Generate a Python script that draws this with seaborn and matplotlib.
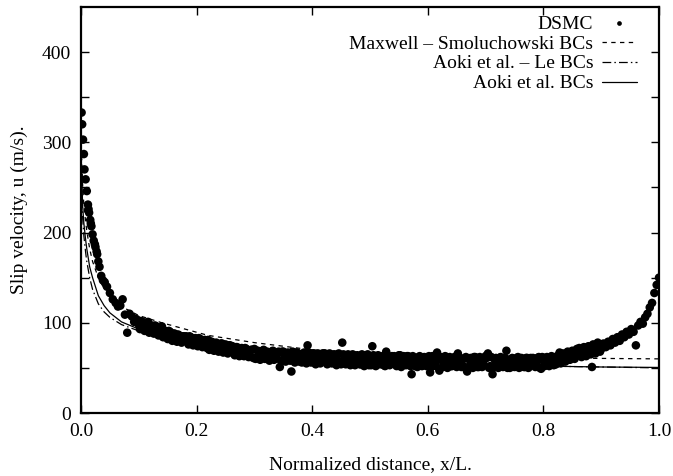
import matplotlib
matplotlib.use("Agg")
import matplotlib.pyplot as plt
import seaborn as sns

# ---------------- data ----------------
dsmc_x_near_wall = [0.001, 0.002, 0.0035, 0.005, 0.006, 0.008, 0.010, 0.012, 0.013, 0.014,
                    0.016, 0.017, 0.018, 0.020, 0.022, 0.024, 0.025, 0.027, 0.028, 0.030,
                    0.032, 0.035, 0.038, 0.041, 0.045, 0.050, 0.055]
dsmc_u_near_wall = [333, 320, 303, 287, 270, 259, 246, 231, 226, 222,
                    214, 210, 207, 198, 191, 187, 184, 179, 176, 168,
                    162, 152, 147, 145, 140, 133, 126]

dsmc_x_bulk = [
    0.060, 0.064, 0.068, 0.072, 0.076, 0.080, 0.084, 0.088, 0.092, 0.096,
    0.100, 0.104, 0.108, 0.112, 0.116, 0.120, 0.124, 0.128, 0.132, 0.136,
    0.140, 0.144, 0.148, 0.152, 0.156, 0.160, 0.164, 0.168, 0.172, 0.176,
    0.180, 0.184, 0.188, 0.192, 0.196, 0.200, 0.204, 0.208, 0.212, 0.216,
    0.220, 0.224, 0.228, 0.232, 0.236, 0.240, 0.244, 0.248, 0.252, 0.256,
    0.260, 0.264, 0.268, 0.272, 0.276, 0.280, 0.284, 0.288, 0.292, 0.296,
    0.300, 0.304, 0.308, 0.312, 0.316, 0.320, 0.324, 0.328, 0.332, 0.336,
    0.340, 0.344, 0.348, 0.352, 0.356, 0.360, 0.364, 0.368, 0.372, 0.376,
    0.380, 0.384, 0.388, 0.392, 0.396, 0.400, 0.404, 0.408, 0.412, 0.416,
    0.420, 0.424, 0.428, 0.432, 0.436, 0.440, 0.444, 0.448, 0.452, 0.456,
    0.460, 0.464, 0.468, 0.472, 0.476, 0.480, 0.484, 0.488, 0.492, 0.496,
    0.500, 0.504, 0.508, 0.512, 0.516, 0.520, 0.524, 0.528, 0.532, 0.536,
    0.540, 0.544, 0.548, 0.552, 0.556, 0.560, 0.564, 0.568, 0.572, 0.576,
    0.580, 0.584, 0.588, 0.592, 0.596, 0.600, 0.604, 0.608, 0.612, 0.616,
    0.620, 0.624, 0.628, 0.632, 0.636, 0.640, 0.644, 0.648, 0.652, 0.656,
    0.660, 0.664, 0.668, 0.672, 0.676, 0.680, 0.684, 0.688, 0.692, 0.696,
    0.700, 0.704, 0.708, 0.712, 0.716, 0.720, 0.724, 0.728, 0.732, 0.736,
    0.740, 0.744, 0.748, 0.752, 0.756, 0.760, 0.764, 0.768, 0.772, 0.776,
    0.780, 0.784, 0.788, 0.792, 0.796, 0.800, 0.804, 0.808, 0.812, 0.816,
    0.820, 0.824, 0.828, 0.832, 0.836, 0.840, 0.844, 0.848, 0.852, 0.856,
    0.860, 0.864, 0.868, 0.872, 0.876, 0.880, 0.884, 0.888, 0.892, 0.896,
    0.900, 0.904, 0.908, 0.912, 0.916, 0.920, 0.924, 0.928, 0.932, 0.936,
    0.940, 0.944, 0.948, 0.952, 0.956, 0.960, 0.964, 0.968, 0.972, 0.976,
    0.980, 0.984, 0.988, 0.992, 0.996, 1.000]
dsmc_u_bulk = [
    122, 118, 119, 126, 109, 89, 110, 107, 101, 104,
    98, 102, 95, 100, 101, 92, 94, 97, 89, 93,
    96, 88, 85, 91, 84, 88, 82, 87, 80, 85,
    84, 79, 85, 78, 82, 76, 83, 79, 74, 80,
    81, 73, 78, 71, 76, 70, 77, 72, 69, 75,
    74, 67, 73, 66, 71, 64, 72, 68, 63, 70,
    71, 62, 68, 64, 70, 61, 67, 63, 69, 60,
    66, 51, 68, 62, 65, 59, 46, 63, 67, 60,
    65, 58, 63, 75, 60, 66, 59, 64, 57, 63,
    66, 58, 62, 56, 64, 59, 65, 57, 78, 61,
    55, 63, 58, 64, 56, 61, 54, 62, 59, 65,
    57, 74, 61, 55, 63, 58, 53, 68, 60, 56,
    62, 55, 60, 64, 54, 59, 63, 56, 43, 61,
    55, 62, 58, 53, 61, 57, 45, 63, 56, 67,
    47, 59, 54, 62, 57, 52, 60, 55, 66, 58,
    53, 61, 46, 59, 54, 62, 56, 51, 60, 55,
    63, 66, 52, 43, 59, 55, 61, 53, 58, 69,
    56, 52, 60, 55, 62, 53, 58, 51, 61, 56,
    54, 60, 55, 62, 49, 58, 53, 61, 56, 60,
    62, 57, 67, 58, 64, 60, 66, 61, 68, 63,
    70, 64, 71, 66, 73, 68, 51, 74, 69, 76,
    71, 77, 73, 79, 75, 82, 78, 84, 80, 87,
    84, 90, 87, 93, 90, 75, 97, 101, 99, 106,
    110, 117, 122, 133, 142, 150]

dsmc_x_bulk2 = [
    0.102, 0.106, 0.110, 0.114, 0.118, 0.122, 0.126, 0.130, 0.134, 0.138,
    0.142, 0.146, 0.150, 0.154, 0.158, 0.162, 0.166, 0.170, 0.174, 0.178,
    0.182, 0.186, 0.190, 0.194, 0.198, 0.202, 0.206, 0.210, 0.214, 0.218,
    0.222, 0.226, 0.230, 0.234, 0.238, 0.242, 0.246, 0.250, 0.254, 0.258,
    0.262, 0.266, 0.270, 0.274, 0.278, 0.282, 0.286, 0.290, 0.294, 0.298,
    0.302, 0.306, 0.310, 0.314, 0.318, 0.322, 0.326, 0.330, 0.334, 0.338,
    0.342, 0.346, 0.350, 0.354, 0.358, 0.362, 0.366, 0.370, 0.374, 0.378,
    0.382, 0.386, 0.390, 0.394, 0.398, 0.402, 0.406, 0.410, 0.414, 0.418,
    0.422, 0.426, 0.430, 0.434, 0.438, 0.442, 0.446, 0.450, 0.454, 0.458,
    0.462, 0.466, 0.470, 0.474, 0.478, 0.482, 0.486, 0.490, 0.494, 0.498,
    0.502, 0.506, 0.510, 0.514, 0.518, 0.522, 0.526, 0.530, 0.534, 0.538,
    0.542, 0.546, 0.550, 0.554, 0.558, 0.562, 0.566, 0.570, 0.574, 0.578,
    0.582, 0.586, 0.590, 0.594, 0.598, 0.602, 0.606, 0.610, 0.614, 0.618,
    0.622, 0.626, 0.630, 0.634, 0.638, 0.642, 0.646, 0.650, 0.654, 0.658,
    0.662, 0.666, 0.670, 0.674, 0.678, 0.682, 0.686, 0.690, 0.694, 0.698,
    0.702, 0.706, 0.710, 0.714, 0.718, 0.722, 0.726, 0.730, 0.734, 0.738,
    0.742, 0.746, 0.750, 0.754, 0.758, 0.762, 0.766, 0.770, 0.774, 0.778,
    0.782, 0.786, 0.790, 0.794, 0.798, 0.802, 0.806, 0.810, 0.814, 0.818,
    0.822, 0.826, 0.830, 0.834, 0.838, 0.842, 0.846, 0.850, 0.854, 0.858,
    0.862, 0.866, 0.870, 0.874, 0.878, 0.882, 0.886, 0.890, 0.894, 0.898]
dsmc_u_bulk2 = [
    93, 101, 91, 99, 89, 97, 88, 96, 86, 93,
    84, 91, 82, 90, 80, 88, 79, 86, 78, 85,
    85, 76, 84, 75, 83, 74, 82, 73, 81, 72,
    70, 79, 69, 78, 68, 77, 67, 76, 66, 75,
    74, 64, 73, 63, 72, 63, 71, 62, 70, 61,
    60, 69, 59, 69, 60, 68, 58, 68, 59, 67,
    68, 58, 68, 57, 67, 58, 68, 56, 67, 57,
    56, 67, 55, 67, 56, 66, 54, 66, 55, 66,
    66, 54, 66, 55, 65, 53, 66, 54, 65, 54,
    65, 53, 65, 53, 64, 54, 65, 52, 64, 53,
    53, 64, 52, 64, 54, 63, 52, 64, 53, 63,
    63, 52, 64, 51, 63, 53, 63, 52, 63, 52,
    51, 63, 52, 62, 52, 63, 51, 62, 52, 63,
    62, 51, 63, 50, 62, 52, 62, 51, 62, 51,
    51, 62, 51, 61, 50, 62, 51, 62, 51, 61,
    61, 50, 62, 51, 61, 50, 62, 51, 61, 50,
    50, 61, 51, 61, 50, 61, 51, 61, 50, 61,
    61, 51, 61, 50, 62, 52, 62, 52, 63, 53,
    54, 64, 55, 66, 57, 68, 59, 69, 60, 71,
    72, 62, 73, 63, 74, 65, 76, 66, 78, 68]

dsmc_x = dsmc_x_near_wall + dsmc_x_bulk + dsmc_x_bulk2
dsmc_u = dsmc_u_near_wall + dsmc_u_bulk + dsmc_u_bulk2

curve_x = [0.001, 0.003, 0.005, 0.008, 0.01, 0.015, 0.02, 0.03, 0.04, 0.05, 0.07, 0.1,
           0.14, 0.18, 0.22, 0.3, 0.4, 0.5, 0.6, 0.7, 0.8, 0.9, 1.0]
maxwell_u = [285, 250, 230, 212, 202, 182, 168, 150, 138, 130, 118, 108,
             100, 93, 86, 78, 70, 66, 63, 62, 61, 60.5, 60]
aoki_le_u = [255, 215, 196, 178, 168, 150, 137, 121, 112, 106, 98, 91,
             84, 79, 75, 68, 62, 58, 55, 53, 52, 51, 50]
aoki_u = [265, 228, 210, 192, 182, 162, 150, 130, 119, 111, 101, 93,
          85, 80, 75.5, 68, 62, 58, 55, 53, 52, 51, 50.5]

xtick_vals = [0.0, 0.2, 0.4, 0.6, 0.8, 1.0]
ytick_vals = [0, 100, 200, 300, 400]

# ---------------- plot ----------------
sns.set_theme(style="ticks")
plt.rcParams["font.family"] = ["Liberation Serif", "DejaVu Serif"]

fig = plt.figure(figsize=(6.73, 4.76), dpi=100)
ax = fig.add_axes([81 / 673, 1 - 413 / 476, (659 - 81) / 673, (413 - 7) / 476])

sns.scatterplot(x=dsmc_x, y=dsmc_u, ax=ax, color="black", s=38, edgecolor="none",
                linewidth=0, label="DSMC", zorder=2)
sns.lineplot(x=curve_x, y=maxwell_u, ax=ax, color="black", linewidth=0.9,
             linestyle=(0, (3.5, 3.5)), label="Maxwell \u2013 Smoluchowski BCs",
             estimator=None, sort=False, zorder=3)
sns.lineplot(x=curve_x, y=aoki_le_u, ax=ax, color="black", linewidth=0.9,
             linestyle=(0, (7, 2.5, 1.2, 2.5)), label="Aoki et al. \u2013 Le BCs",
             estimator=None, sort=False, zorder=3)
sns.lineplot(x=curve_x, y=aoki_u, ax=ax, color="black", linewidth=0.9,
             linestyle="-", label="Aoki et al. BCs",
             estimator=None, sort=False, zorder=3)

ax.set_xlim(0, 1.0)
ax.set_ylim(0, 450)
ax.set_xticks(xtick_vals)
ax.set_xticklabels([f"{v:.1f}" for v in xtick_vals])
ax.set_yticks(ytick_vals)
ax.set_yticklabels([str(v) for v in ytick_vals])
ax.set_yticks([50, 150, 250, 350], minor=True)
ax.tick_params(axis="both", which="both", direction="in", top=True, right=True,
               labelsize=14, width=1.0, color="black", labelcolor="black")
ax.tick_params(axis="both", which="major", length=6, pad=7)
ax.tick_params(axis="y", which="minor", length=6)
for sp in ax.spines.values():
    sp.set_linewidth(1.6)
    sp.set_color("black")
    sp.set_visible(True)

ax.set_xlabel("Normalized distance, x/L.", fontsize=14, color="black", labelpad=12)
ax.set_ylabel("Slip velocity, u (m/s).", fontsize=14, color="black", labelpad=10)

leg = ax.legend(loc="upper right", bbox_to_anchor=(1 - 22 / 578, 1 - 8 / 406),
                frameon=False, markerfirst=False, fontsize=14,
                handlelength=1.8, handletextpad=0.45, labelspacing=0.12,
                borderaxespad=0.0, borderpad=0.0, markerscale=0.55)
for t in leg.get_texts():
    t.set_color("black")

fig.savefig("out.png", dpi=100, facecolor="white")
